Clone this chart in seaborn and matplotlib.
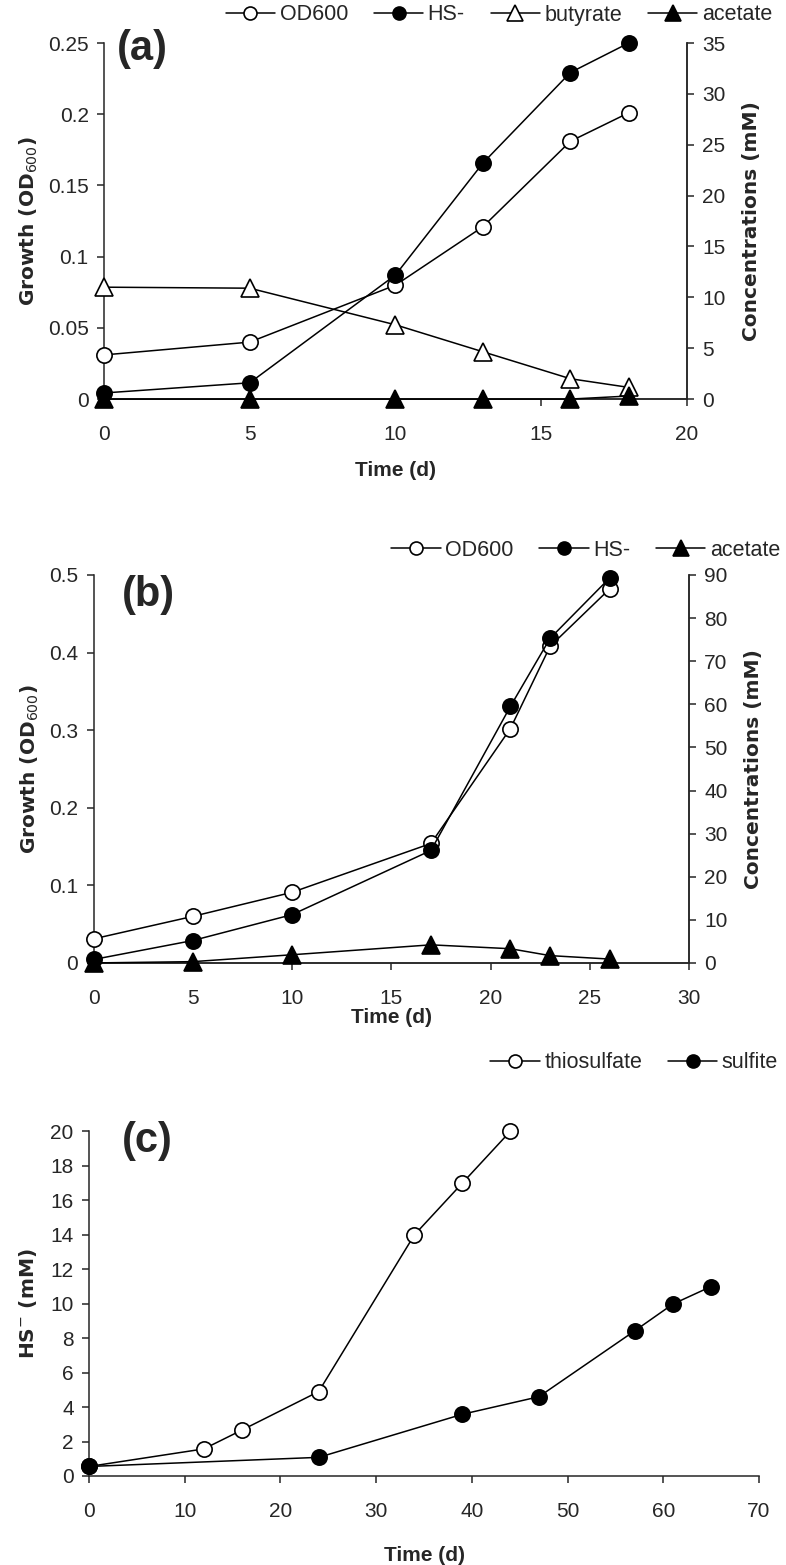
import seaborn as sns
import matplotlib.pyplot as plt
import matplotlib.font_manager as fm

# panel (a): growth on butyrate
a_time = [0, 5, 10, 13, 16, 18]
a_od = [0.031, 0.040, 0.080, 0.121, 0.181, 0.201]
a_hs = [0.6, 1.6, 12.2, 23.2, 32.1, 35.0]
a_butyrate = [11.0, 10.9, 7.3, 4.65, 2.0, 1.15]
a_acetate = [0, 0, 0, 0, 0, 0.3]

# panel (b)
b_time = [0, 5, 10, 17, 21, 23, 26]
b_od = [0.031, 0.060, 0.091, 0.154, 0.302, 0.408, 0.482]
b_hs = [0.8, 5.2, 11.2, 26.1, 59.5, 75.3, 89.3]
b_acetate = [0, 0.3, 1.9, 4.2, 3.3, 1.7, 0.9]

# panel (c): HS- from thiosulfate / sulfite
c_thio_time = [0, 12, 16, 24, 34, 39, 44]
c_thio = [0.55, 1.57, 2.67, 4.9, 14.0, 17.0, 20.0]
c_sulf_time = [0, 24, 39, 47, 57, 61, 65]
c_sulf = [0.55, 1.08, 3.58, 4.6, 8.42, 9.98, 11.0]

sns.set_theme(style="ticks")
names = {f.name for f in fm.fontManager.ttflist}
narrow = 'Liberation Sans Narrow' if 'Liberation Sans Narrow' in names else 'Liberation Sans'
plt.rcParams['font.family'] = [narrow, 'DejaVu Sans']
plt.rcParams['axes.linewidth'] = 1.1
plt.rcParams['xtick.major.width'] = 1.1
plt.rcParams['ytick.major.width'] = 1.1
plt.rcParams['xtick.major.size'] = 5
plt.rcParams['ytick.major.size'] = 5

TICK = 15
LEG = 15.5
LAB = dict(fontsize=14.5, fontweight='bold', family='DejaVu Sans')

open_c = dict(marker='o', markerfacecolor='white', markeredgecolor='black', markersize=11, markeredgewidth=1.2)
full_c = dict(marker='o', markerfacecolor='black', markeredgecolor='black', markersize=11, markeredgewidth=1.2)
open_t = dict(marker='^', markerfacecolor='white', markeredgecolor='black', markersize=13, markeredgewidth=1.2)
full_t = dict(marker='^', markerfacecolor='black', markeredgecolor='black', markersize=13, markeredgewidth=1.2)


def series(ax, x, y, style, label):
    sns.lineplot(x=x, y=y, ax=ax, color='black', linewidth=1.1, label=label,
                 legend=False, clip_on=False, zorder=5, **style)


def style_axes(ax, ax2=None):
    ax.spines['top'].set_visible(False)
    ax.tick_params(labelsize=TICK, direction='out', pad=6)
    ax.tick_params(axis='x', pad=14)
    if ax2 is None:
        ax.spines['right'].set_visible(False)
    else:
        ax2.spines['top'].set_visible(False)
        ax2.tick_params(labelsize=TICK, direction='out', pad=6)
        ax2.spines['left'].set_visible(False)


def legend(ax, handles, x, y, ncol):
    ax.legend(handles, [l.get_label() for l in handles], loc='center right',
              bbox_to_anchor=(x / 786, 1 - y / 1565), bbox_transform=fig.transFigure,
              ncol=ncol, frameon=False, fontsize=LEG, handlelength=2.3, borderaxespad=0,
              borderpad=0, handletextpad=0.2, columnspacing=1.2, markerscale=0.85)


fig = plt.figure(figsize=(7.86, 15.65), dpi=100)

# ---------- (a)
ax = fig.add_axes([0.1323, 0.745, 0.874 - 0.1323, 0.9725 - 0.745])
ax2 = ax.twinx()
series(ax, a_time, a_od, open_c, 'OD600')
series(ax2, a_time, a_hs, full_c, 'HS-')
series(ax2, a_time, a_butyrate, open_t, 'butyrate')
series(ax2, a_time, a_acetate, full_t, 'acetate')
ax.set_xlim(0, 20)
ax.set_ylim(0, 0.25)
ax2.set_ylim(0, 35)
ax.set_xticks(range(0, 21, 5))
ax.set_yticks([0, 0.05, 0.1, 0.15, 0.2, 0.25], ['0', '0.05', '0.1', '0.15', '0.2', '0.25'])
ax2.set_yticks(range(0, 36, 5))
style_axes(ax, ax2)
ax.set_xlabel('Time (d)', fontsize=15, fontweight='bold', labelpad=12)
ax.set_ylabel('Growth (OD$_{600}$)', labelpad=6, **LAB)
ax2.set_ylabel('Concentrations (mM)', labelpad=12, **LAB)
ax.text(0.022, 1.04, '(a)', transform=ax.transAxes, fontsize=30, fontweight='bold', va='top')
legend(ax, ax.get_lines() + ax2.get_lines(), 772, 15, 4)

# ---------- (b)
ax = fig.add_axes([0.119, 0.3847, 0.8766 - 0.119, 0.6326 - 0.3847])
ax2 = ax.twinx()
series(ax, b_time, b_od, open_c, 'OD600')
series(ax2, b_time, b_hs, full_c, 'HS-')
series(ax2, b_time, b_acetate, full_t, 'acetate')
ax.set_xlim(0, 30)
ax.set_ylim(0, 0.5)
ax2.set_ylim(0, 90)
ax.set_xticks(range(0, 31, 5))
ax.set_yticks([0, 0.1, 0.2, 0.3, 0.4, 0.5], ['0', '0.1', '0.2', '0.3', '0.4', '0.5'])
ax2.set_yticks(range(0, 91, 10))
style_axes(ax, ax2)
ax.set_xlabel('Time (d)', fontsize=15, fontweight='bold', labelpad=0)
ax.set_ylabel('Growth (OD$_{600}$)', labelpad=6, **LAB)
ax2.set_ylabel('Concentrations (mM)', labelpad=12, **LAB)
ax.text(0.048, 1.0, '(b)', transform=ax.transAxes, fontsize=30, fontweight='bold', va='top')
legend(ax, ax.get_lines() + ax2.get_lines(), 780, 550, 3)

# ---------- (c)
ax = fig.add_axes([0.1132, 0.0569, 0.9657 - 0.1132, 0.277 - 0.0569])
series(ax, c_thio_time, c_thio, open_c, 'thiosulfate')
series(ax, c_sulf_time, c_sulf, full_c, 'sulfite')
ax.set_xlim(0, 70)
ax.set_ylim(0, 20)
ax.set_xticks(range(0, 71, 10))
ax.set_yticks(range(0, 21, 2))
style_axes(ax)
ax.set_xlabel('Time (d)', fontsize=15, fontweight='bold', labelpad=18)
ax.set_ylabel('HS$^{-}$ (mM)', labelpad=8, **LAB)
ax.text(0.049, 1.03, '(c)', transform=ax.transAxes, fontsize=30, fontweight='bold', va='top')
legend(ax, ax.get_lines(), 778, 1063, 2)

fig.savefig('out.png', dpi=100)
